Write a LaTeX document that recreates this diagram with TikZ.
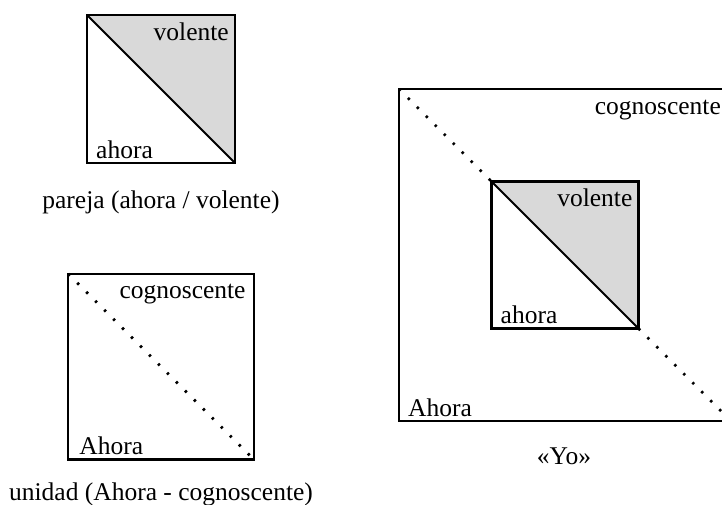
\documentclass[tikz,border=0pt]{standalone}
\usepackage{fontspec}
\setmainfont{Liberation Serif}
\usetikzlibrary{backgrounds}
\begin{document}
\begin{tikzpicture}[x=1pt,y=-1pt,
  box/.style={draw, line width=2.2pt, outer sep=0pt, inner sep=0pt},
  lbl/.style={font=\fontsize{25.5}{30}\selectfont, inner sep=0pt},
  dotline/.style={line width=2.8pt, line cap=butt, dash pattern=on 2.4pt off 10.3pt},
  diag/.style={line width=1.9pt},
  shade/.style={fill=gray!30}]
\useasboundingbox (0,0) rectangle (722,504);

% boxes
\node[box, minimum width=148pt, minimum height=148pt] (b1) at (161,89) {};
\node[box, minimum width=185.5pt, minimum height=185.5pt] (b2) at (161,366.7) {};
\node[box, minimum width=332pt, minimum height=332pt] (b3) at (565,255) {};
\node[box, minimum width=147pt, minimum height=147pt] (b4) at (565,255) {};

% shaded triangles
\begin{scope}[on background layer]
\fill[shade] (b1.north west) -- (b1.north east) -- (b1.south east) -- cycle;
\fill[shade] (b4.north west) -- (b4.north east) -- (b4.south east) -- cycle;
\end{scope}

% diagonals
\draw[diag] (b1.north west) -- (b1.south east);
\draw[diag] (b4.north west) -- (b4.south east);
\draw[dotline] (b2.north west) -- (b2.south east);
\draw[dotline] (b3.north west) -- (b4.north west);
\draw[dotline] (b4.south east) -- (b3.south east);

% labels
\node[lbl, anchor=base east] (v1) at ([xshift=-6pt,yshift=-25pt]b1.north east) {volente};
\node[lbl, anchor=base west] (a1) at ([xshift=9pt,yshift=5pt]b1.south west) {ahora};
\node[lbl, anchor=base east] (k2) at ([xshift=-8pt,yshift=-25pt]b2.north east) {cognoscente};
\node[lbl, anchor=base west] (a2) at ([xshift=11pt,yshift=5pt]b2.south west) {Ahora};
\node[lbl, anchor=base east] (k3) at ([xshift=-10pt,yshift=-25pt]b3.north east) {cognoscente};
\node[lbl, anchor=base west] (a3) at ([xshift=9pt,yshift=5pt]b3.south west) {Ahora};
\node[lbl, anchor=base east] (v4) at ([xshift=-6pt,yshift=-25pt]b4.north east) {volente};
\node[lbl, anchor=base west] (a4) at ([xshift=9pt,yshift=5pt]b4.south west) {ahora};

% captions
\node[lbl, anchor=base] (c1) at (161,208) {pareja (ahora / volente)};
\node[lbl, anchor=base] (c2) at (161,500) {unidad (Ahora - cognoscente)};
\node[lbl, anchor=base] (c3) at (564,464) {«Yo»};
\end{tikzpicture}
\end{document}
